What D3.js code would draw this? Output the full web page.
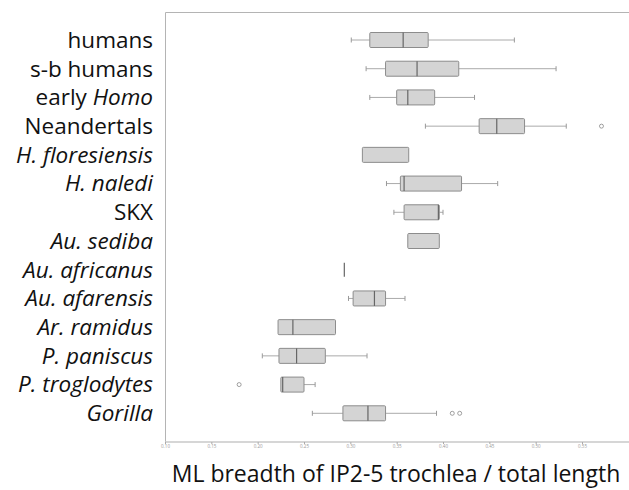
<!DOCTYPE html>
<html>
<head>
<meta charset="utf-8">
<script src="https://cdn.jsdelivr.net/npm/d3@7"></script>
<style>
   body { margin: 0; background: #fff; }
   svg { display: block; }
</style>
</head>
<body>
<div id="chart"></div>
<script>
var width = 629
var height = 490

// species in display order, with which ones are set in italics (parts)
var species = ["humans", "s-b humans", "early Homo", "Neandertals", "H. floresiensis", "H. naledi", "SKX",
   "Au. sediba", "Au. africanus", "Au. afarensis", "Ar. ramidus", "P. paniscus", "P. troglodytes", "Gorilla"]
var labelParts = [
   [["humans", false]],
   [["s-b humans", false]],
   [["early ", false], ["Homo", true]],
   [["Neandertals", false]],
   [["H. floresiensis", true]],
   [["H. naledi", true]],
   [["SKX", false]],
   [["Au. sediba", true]],
   [["Au. africanus", true]],
   [["Au. afarensis", true]],
   [["Ar. ramidus", true]],
   [["P. paniscus", true]],
   [["P. troglodytes", true]],
   [["Gorilla", true]]
]

// box stats (null = not drawn)
var whiskerLow  = [0.301, 0.317, 0.321, 0.381, null,  0.339, 0.347, null,  null,  0.298, null,  0.205, null,  0.259]
var q1          = [0.321, 0.338, 0.350, 0.439, 0.313, 0.354, 0.358, 0.362, 0.2935, 0.303, 0.222, 0.223, 0.225, 0.292]
var medians     = [0.357, 0.372, 0.362, 0.458, null,  0.358, 0.395, null,  0.2935, 0.326, 0.238, 0.242, 0.227, 0.319]
var q3          = [0.384, 0.417, 0.391, 0.488, 0.363, 0.420, 0.396, 0.396, 0.2935, 0.338, 0.284, 0.273, 0.250, 0.338]
var whiskerHigh = [0.477, 0.522, 0.434, 0.533, null,  0.459, 0.400, null,  null,  0.359, null,  0.318, 0.262, 0.393]
var outliers    = [[], [], [], [0.571], [], [], [], [], [], [], [], [], [0.180], [0.410, 0.418]]

var xTicks = [0.10, 0.15, 0.20, 0.25, 0.30, 0.35, 0.40, 0.45, 0.50, 0.55]
var xTitle = "ML breadth of IP2-5 trochlea / total length"

var plotLeft = 165, plotTop = 12, plotBottom = 442, plotRight = 629

var svg = d3.select("#chart").append("svg")
   .attr("width", width)
   .attr("height", height)

var x = d3.scaleLinear().domain([0.10, 0.60]).range([plotLeft, plotLeft + 0.5 * 926.7])
var y = d3.scalePoint().domain(species).range([40, 413.3])

// frame: left and top borders
svg.append("path")
   .attr("d", "M" + (plotLeft + 0.5) + "," + plotBottom + "V" + (plotTop + 0.5) + "H" + plotRight)
   .attr("fill", "none")
   .attr("stroke", "#b4b4b4")
   .attr("stroke-width", 1)

// x axis
var xAxis = svg.append("g")
   .attr("class", "x-axis")
   .attr("transform", "translate(0," + plotBottom + ")")
   .call(d3.axisBottom(x).tickValues(xTicks).tickFormat(d3.format(".2f")).tickSize(2).tickSizeOuter(0))

xAxis.select(".domain").attr("stroke", "#c8c8c8").attr("stroke-width", 1.5)
   .attr("d", "M" + plotLeft + ",0H" + plotRight)
xAxis.selectAll(".tick line").attr("stroke", "#aaa")
xAxis.selectAll(".tick text")
   .attr("fill", "#999")
   .attr("font-size", "4.5px")
   .attr("font-family", "Open Sans, sans-serif")
   .attr("dy", "0.3em")

// axis title
svg.append("text")
   .attr("x", 396)
   .attr("y", 482)
   .attr("text-anchor", "middle")
   .attr("font-family", "Open Sans, sans-serif")
   .attr("font-size", "23px")
   .attr("fill", "#111")
   .text(xTitle)

// species labels
var labels = svg.selectAll("text.species").data(species).enter().append("text")
   .attr("class", "species")
   .attr("x", 153)
   .attr("y", function(d) { return y(d) })
   .attr("dy", "0.35em")
   .attr("text-anchor", "end")
   .attr("font-family", "Open Sans, sans-serif")
   .attr("font-size", "22.5px")
   .attr("fill", "#111")

labels.each(function(d, i) {
   var t = d3.select(this)
   labelParts[i].forEach(function(p) {
      t.append("tspan")
         .attr("font-style", p[1] ? "italic" : "normal")
         .text(p[0])
   })
})

var boxH = 15
var capH = 5

var rows = svg.selectAll("g.row").data(species).enter().append("g")
   .attr("class", "row")
   .attr("transform", function(d) { return "translate(0," + y(d) + ")" })

rows.each(function(d, i) {
   var g = d3.select(this)
   var lo = whiskerLow[i], hi = whiskerHigh[i]

   if(lo != null) {
      g.append("line")
         .attr("x1", x(lo)).attr("x2", x(q1[i]))
         .attr("stroke", "#aaa")
      g.append("line")
         .attr("x1", x(lo)).attr("x2", x(lo))
         .attr("y1", -capH / 2).attr("y2", capH / 2)
         .attr("stroke", "#999")
   }
   if(hi != null) {
      g.append("line")
         .attr("x1", x(q3[i])).attr("x2", x(hi))
         .attr("stroke", "#aaa")
      g.append("line")
         .attr("x1", x(hi)).attr("x2", x(hi))
         .attr("y1", -capH / 2).attr("y2", capH / 2)
         .attr("stroke", "#999")
   }

   if(q3[i] - q1[i] > 0.001) {
      g.append("rect")
         .attr("x", x(q1[i]))
         .attr("y", -boxH / 2)
         .attr("width", x(q3[i]) - x(q1[i]))
         .attr("height", boxH)
         .attr("rx", 1)
         .attr("fill", "#d4d4d4")
         .attr("stroke", "#8c8c8c")
         .attr("stroke-width", 1)
   }

   if(medians[i] != null) {
      var mh = (q3[i] - q1[i] > 0.001) ? boxH : 14
      g.append("line")
         .attr("x1", x(medians[i])).attr("x2", x(medians[i]))
         .attr("y1", -mh / 2).attr("y2", mh / 2)
         .attr("stroke", "#666")
         .attr("stroke-width", 1.2)
   }

   g.selectAll("circle.outlier").data(outliers[i]).enter().append("circle")
      .attr("class", "outlier")
      .attr("cx", function(v) { return x(v) })
      .attr("cy", 0)
      .attr("r", 2)
      .attr("fill", "none")
      .attr("stroke", "#888")
      .attr("stroke-width", 0.8)
})
</script>
</body>
</html>
